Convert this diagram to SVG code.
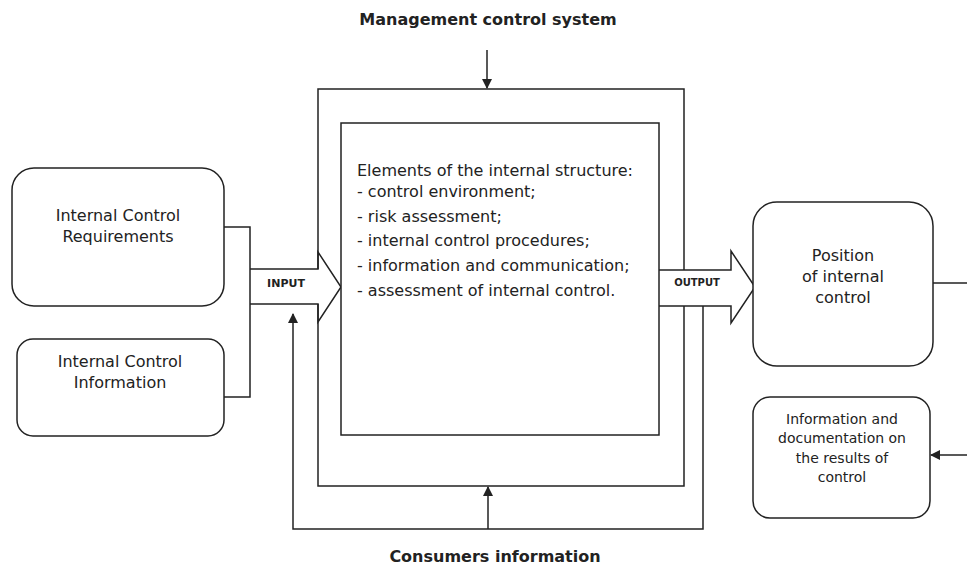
<svg xmlns="http://www.w3.org/2000/svg" width="967" height="566" viewBox="0 0 967 566">
  <style>
    .ln { fill: none; stroke: #222; stroke-width: 1.5; }
    .box { fill: #fff; stroke: #222; stroke-width: 1.5; }
    .t { font-family: "DejaVu Sans", "Liberation Sans", sans-serif; fill: #222; }
    .c { text-anchor: middle; }
    .h { font-size: 16px; font-weight: bold; }
    .n { font-size: 16px; }
    .s { font-size: 14px; }
    .k { font-weight: bold; }
  </style>
  <defs>
    <marker id="arr" markerWidth="10" markerHeight="10" refX="9" refY="5" orient="auto" markerUnits="userSpaceOnUse">
      <path d="M0,0 L10,5 L0,10 Z" fill="#222"/>
    </marker>
  </defs>
  <rect width="967" height="566" fill="#fff"/>

  <text class="t h c" x="488" y="25">Management control system</text>
  <text class="t h c" x="495" y="562">Consumers information</text>

  <g id="connectors">
    <!-- outer frame, broken by input and output arrows -->
    <path class="ln" d="M318,269 V89 H684 V270"/>
    <path class="ln" d="M684,306 V486 H318 V304"/>
    <!-- lower feedback loop -->
    <path class="ln" d="M703,306 V529 H293 V314" marker-end="url(#arr)"/>
    <path class="ln" d="M488,529 V487" marker-end="url(#arr)"/>
    <!-- management input from above -->
    <path class="ln" d="M487,50 V88" marker-end="url(#arr)"/>
    <!-- sources joining into the input arrow -->
    <path class="ln" d="M224,227 H250 V397 H224"/>
    <!-- wide input arrow -->
    <path class="ln" d="M250,269 H318 V252 L341,287 L318,322 V304 H250"/>
    <!-- wide output arrow -->
    <path class="ln" d="M659,270 H731 V251 L755,287 L731,323 V306 H659"/>
    <!-- links at right edge -->
    <path class="ln" d="M933,283 H967"/>
    <path class="ln" d="M967,455 H931" marker-end="url(#arr)"/>
  </g>
  <text class="t k c" x="286" y="287" font-size="11">INPUT</text>
  <text class="t k c" x="697" y="286" font-size="10">OUTPUT</text>

  <g id="structure">
    <rect class="box" x="341" y="123" width="318" height="312"/>
    <text class="t n" x="357" y="176">Elements of the internal structure:</text>
    <text class="t n" x="357" y="197">- control environment;</text>
    <text class="t n" x="357" y="222">- risk assessment;</text>
    <text class="t n" x="357" y="246">- internal control procedures;</text>
    <text class="t n" x="357" y="271">- information and communication;</text>
    <text class="t n" x="357" y="296">- assessment of internal control.</text>
  </g>

  <g id="requirements">
    <rect class="box" x="12" y="168" width="212" height="138" rx="22"/>
    <text class="t n c" x="118" y="221">Internal Control</text>
    <text class="t n c" x="118" y="242">Requirements</text>
  </g>

  <g id="information">
    <rect class="box" x="17" y="339" width="207" height="97" rx="16"/>
    <text class="t n c" x="120" y="367">Internal Control</text>
    <text class="t n c" x="120" y="388">Information</text>
  </g>

  <g id="position">
    <rect class="box" x="753" y="202" width="180" height="164" rx="24"/>
    <text class="t n c" x="843" y="261">Position</text>
    <text class="t n c" x="843" y="282">of internal</text>
    <text class="t n c" x="843" y="303">control</text>
  </g>

  <g id="documentation">
    <rect class="box" x="753" y="397" width="177" height="121" rx="17"/>
    <text class="t s c" x="842" y="424">Information and</text>
    <text class="t s c" x="842" y="443">documentation on</text>
    <text class="t s c" x="842" y="463">the results of</text>
    <text class="t s c" x="842" y="482">control</text>
  </g>
</svg>
